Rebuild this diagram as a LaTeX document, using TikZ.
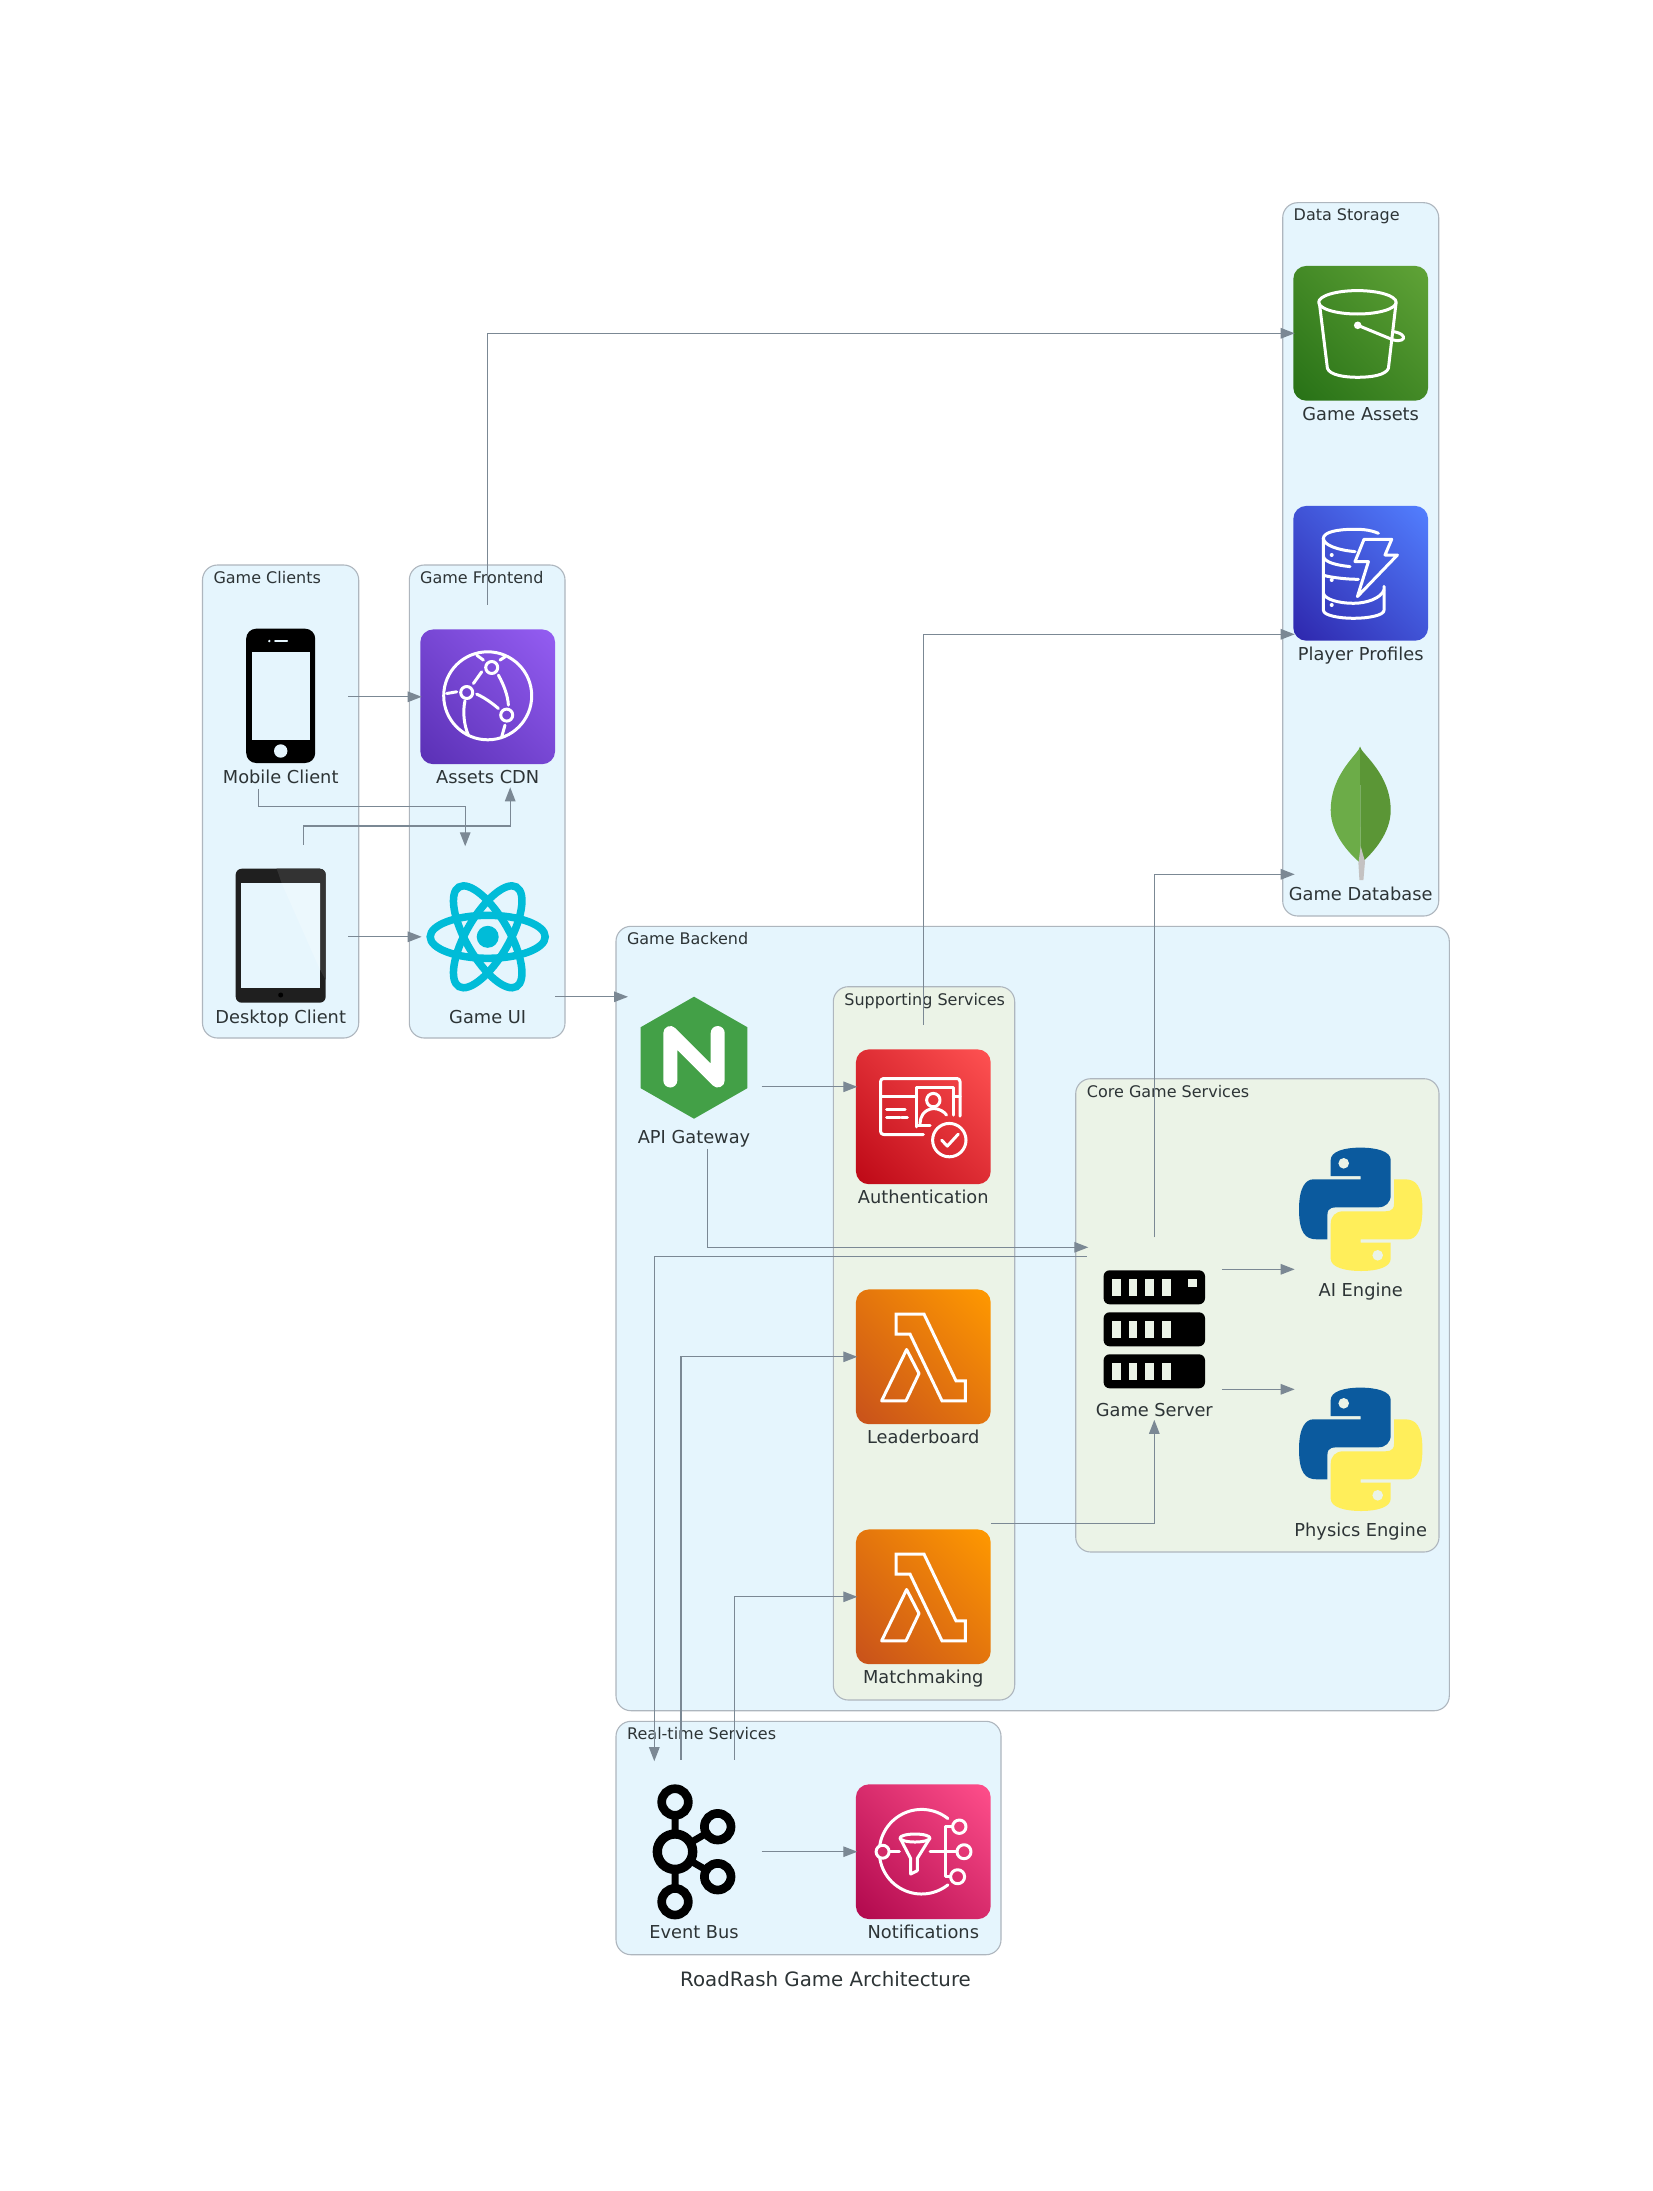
\documentclass[tikz,border=0pt]{standalone}
\usepackage{fontspec}
\setmainfont{DejaVu Sans}
\usetikzlibrary{arrows.meta}
\definecolor{clusterfill}{HTML}{E5F5FD}
\definecolor{innerfill}{HTML}{EBF3E7}
\definecolor{clusterline}{HTML}{AEB6BE}
\definecolor{connline}{HTML}{7B8894}
\definecolor{inkcol}{HTML}{2D3436}
\tikzset{
  cluster/.style={draw=clusterline,line width=1.1pt,fill=clusterfill,rounded corners=15pt},
  innercluster/.style={cluster,fill=innerfill},
  clab/.style={anchor=base west,inner sep=0pt,text=inkcol,font=\fontsize{16}{18}\selectfont},
  lab/.style={anchor=base,inner sep=0pt,text=inkcol,font=\fontsize{17.8}{20}\selectfont},
  svc/.style={rectangle,minimum width=135pt,minimum height=184pt,inner sep=0pt,outer sep=0pt,draw=none},
  conn/.style={draw=connline,line width=1.3pt,-{Triangle[length=14pt,width=10.5pt]},shorten >=-1.5pt},
  wl/.style={draw=white,line width=3pt,line cap=round,line join=round},
}
\newcommand{\svcnode}[5]{\node[svc] (#1) at (#2,#3) {};
  \node[lab] (#1-label) at ([yshift=-87pt]#1.center) {#4};}
\newcommand{\tilebg}[1]{\shade[rounded corners=13pt,shading=#1,shading angle=-45]
  (-67.4,-67.4) rectangle (67.4,67.4);}
\newcommand{\newtile}[3]{\pgfdeclareverticalshading{#1}{100bp}{color(0bp)=(#2); color(14.65bp)=(#2); color(85.35bp)=(#3); color(100bp)=(#3)}}
\newcommand{\snakepath}{(-30,-33.3) -- (-30,-49.3) .. controls (-30,-58) and (-16,-61.7) .. (-0.7,-61.7)
  .. controls (16,-61.7) and (30,-58) .. (30,-49.3) -- (30,-14.3) .. controls (30,-7) and (25,-2) .. (17.7,-2)
  -- (-19,-2) .. controls (-27,-2) and (-33.3,-3) .. (-33.3,5.7) -- (-33.3,30) -- (-44,30)
  .. controls (-55,30) and (-61.7,24) .. (-61.7,0) .. controls (-61.7,-22) and (-55,-30) .. (-47.3,-30)
  -- (0,-30) -- (0,-33.3) -- cycle}
\newcommand{\pylogo}[1]{\begin{scope}[shift={(#1.center)}]
  \fill[pyblue] \snakepath;
  \fill[innerfill] (-17,-46) circle (5.3pt);
  \begin{scope}[rotate=180]
  \fill[pyyellow] \snakepath;
  \fill[innerfill] (-17,-46) circle (5.3pt);
  \end{scope}
  \end{scope}}
\newcommand{\lambdaicon}[1]{\begin{scope}[shift={(#1.center)}]
  \tilebg{lamtile}
  \draw[wl,line join=miter] (-27.3,-42.7) -- (0.7,-42.7) -- (32.7,24) -- (42,24) -- (42,44) -- (18.7,44) -- (-13.3,-22.7) -- (-27.3,-22.7) -- cycle;
  \draw[wl] (-16.7,-7.3) -- (-4.3,16.7) -- (-17.3,44) -- (-41.7,44) -- cycle;
  \end{scope}}
\definecolor{pyblue}{HTML}{0B5A9E}
\definecolor{pyyellow}{HTML}{FFEE5A}
\definecolor{cdnA}{HTML}{5A30B5}\definecolor{cdnB}{HTML}{945DF2}
\definecolor{sthreeA}{HTML}{277116}\definecolor{sthreeB}{HTML}{60A337}
\definecolor{ddbA}{HTML}{2E27AD}\definecolor{ddbB}{HTML}{527FFF}
\definecolor{authA}{HTML}{BD0816}\definecolor{authB}{HTML}{FF5252}
\definecolor{lamA}{HTML}{C8511B}\definecolor{lamB}{HTML}{FF9900}
\definecolor{snsA}{HTML}{B0084D}\definecolor{snsB}{HTML}{FF4F8B}
\definecolor{snsmid}{HTML}{D22B69}
\definecolor{reactc}{HTML}{00BCD8}
\definecolor{ngx}{HTML}{43A047}
\definecolor{leafL}{HTML}{6CAC48}\definecolor{leafR}{HTML}{5B9636}\definecolor{leafS}{HTML}{C4C2C2}
\newtile{cdntile}{cdnA}{cdnB}
\newtile{sthreetile}{sthreeA}{sthreeB}
\newtile{ddbtile}{ddbA}{ddbB}
\newtile{authtile}{authA}{authB}
\newtile{lamtile}{lamA}{lamB}
\newtile{snstile}{snsA}{snsB}
\begin{document}
\begin{tikzpicture}[x=1pt,y=-1pt]
\useasboundingbox (0,0) rectangle (1652,2191);
\fill[white] (0,0) rectangle (1652,2191);
% clusters
\draw[cluster] (202.5,565) rectangle (358.7,1038);
\node[clab] (clients-title) at (213.3,583.5) {Game Clients};
\draw[cluster] (409.3,565) rectangle (565,1038);
\node[clab] (frontend-title) at (420,583.5) {Game Frontend};
\draw[cluster] (1282.7,202.7) rectangle (1438.7,916);
\node[clab] (storage-title) at (1293.5,221) {Data Storage};
\draw[cluster] (616,926.3) rectangle (1449.3,1710.7);
\node[clab] (backend-title) at (626.8,944.7) {Game Backend};
\draw[innercluster] (833.3,986.7) rectangle (1014.7,1700);
\node[clab] (support-title) at (844.2,1005) {Supporting Services};
\draw[innercluster] (1075.7,1078.7) rectangle (1439,1552);
\node[clab] (core-title) at (1086.7,1097) {Core Game Services};
\draw[cluster] (616,1721.3) rectangle (1001,1954.7);
\node[clab] (realtime-title) at (627,1739.7) {Real-time Services};
\node[anchor=base,inner sep=0pt,text=inkcol,font=\fontsize{19.8}{22}\selectfont] (diagram-title) at (825.5,1986.7) {RoadRash Game Architecture};
% services
\svcnode{mobile}{280.7}{696.8}{Mobile Client}{}
\svcnode{tablet}{280.7}{936.8}{Desktop Client}{}
\svcnode{cdn}{487.7}{696.8}{Assets CDN}{}
\svcnode{ui}{487.7}{936.8}{Game UI}{}
\svcnode{assets}{1360.7}{333.3}{Game Assets}{}
\svcnode{profiles}{1360.7}{573.3}{Player Profiles}{}
\svcnode{gamedb}{1360.7}{813.3}{Game Database}{}
\svcnode{gateway}{694}{1056.8}{API Gateway}{}
\svcnode{auth}{923.3}{1116.8}{Authentication}{}
\svcnode{leader}{923.3}{1356.8}{Leaderboard}{}
\svcnode{match}{923.3}{1596.8}{Matchmaking}{}
\svcnode{server}{1154.3}{1329.3}{Game Server}{}
\svcnode{ai}{1360.7}{1209.3}{AI Engine}{}
\svcnode{physics}{1360.7}{1449.3}{Physics Engine}{}
\svcnode{bus}{694}{1851.7}{Event Bus}{}
\svcnode{notif}{923.3}{1851.7}{Notifications}{}
% mobile icon
\begin{scope}[shift={(mobile.center)}]
  \fill[black,rounded corners=10pt] (-34.5,-68.1) rectangle (34.5,66.2);
  \fill[clusterfill] (-29,-44.5) rectangle (29.3,43.2);
  \fill[clusterfill] (0,54.2) circle (6.7pt);
  \draw[clusterfill,line width=1.6pt,line cap=round] (-5.7,-55.8) -- (6.6,-55.8);
  \fill[clusterfill] (-11.4,-55.8) circle (1.3pt);
\end{scope}
% tablet icon
\begin{scope}[shift={(tablet.center)}]
  \fill[black!88,rounded corners=6pt] (-45,-68.1) rectangle (45,65.9);
  \begin{scope}
    \clip[rounded corners=6pt] (-45,-68.1) rectangle (45,65.9);
    \fill[black!80] (-4,-68.1) -- (1,-53.5) -- (39.3,-53.5) -- (39.3,33) -- (45,43) -- (45,-68.1) -- cycle;
  \end{scope}
  \fill[clusterfill!92!white] (-40,-53.5) rectangle (39.3,51.5);
  \fill[clusterfill!72!white] (1,-53.5) -- (39.3,-53.5) -- (39.3,33) -- cycle;
  \fill[black] (0,58.2) circle (2.5pt);
\end{scope}
% cdn icon
\begin{scope}[shift={(cdn.center)}]
  \tilebg{cdntile}
  \draw[wl] (0,-1) circle (44pt);
  \draw[wl] (4,-29.3) circle (6pt) (-21,-4.3) circle (6pt) (19,18.3) circle (6pt);
  \draw[wl] (10.7,-21.7) .. controls (16,-12) and (20,-2) .. (20.7,8.3);
  \draw[wl] (-14.3,-13.3) -- (-6,-25);
  \draw[wl] (-11,-2.7) .. controls (-3,1) and (4,6) .. (10.7,11.7);
  \draw[wl] (-22.7,4) .. controls (-25,14) and (-24,28) .. (-19.3,38.3);
  \draw[wl] (-41,-3.3) -- (-31,-5);
  \draw[wl] (17.3,28.3) -- (14,40);
  \draw[wl] (-11,-41.7) -- (-4.3,-36.7);
  \draw[wl] (12.3,-36.7) -- (17.3,-40);
\end{scope}
% react icon
\begin{scope}[shift={(ui.center)}]
  \begin{scope}[draw=reactc,line width=7.5pt]
    \draw (0,0) ellipse [x radius=57.5pt,y radius=21.5pt];
    \draw[rotate=60] (0,0) ellipse [x radius=57.5pt,y radius=21.5pt];
    \draw[rotate=-60] (0,0) ellipse [x radius=57.5pt,y radius=21.5pt];
  \end{scope}
  \fill[reactc] (0,0) circle (11pt);
\end{scope}
% s3 icon
\begin{scope}[shift={(assets.center)}]
  \tilebg{sthreetile}
  \draw[wl] (-3.3,-31) ellipse [x radius=38.7pt,y radius=11.7pt];
  \draw[wl] (-41.3,-30) -- (-33.3,35) .. controls (-31,42) and (-15,44) .. (-3.3,44) .. controls (10,44) and (25,42) .. (27.7,35) -- (35.3,-30);
  \fill[white] (-3,-8) circle (3.8pt);
  \draw[wl] (-3,-8) -- (32.7,6.7) .. controls (40,8.5) and (44,6) .. (42.7,3.3) .. controls (41,0) and (36,-1) .. (32.7,-1.7);
\end{scope}
% dynamodb icon
\begin{scope}[shift={(profiles.center)}]
  \tilebg{ddbtile}
  \draw[wl] (17.7,-40) .. controls (8,-44) and (0,-44) .. (-7.3,-44) .. controls (-24,-44) and (-37.3,-41) .. (-37.3,-35) .. controls (-37.3,-28) and (-22,-23) .. (-5.7,-21.7);
  \draw[wl] (-37.3,-35) -- (-37.3,37) .. controls (-37.3,42) and (-22,45) .. (-7.3,45) .. controls (8,45) and (23.3,42) .. (23.3,37) -- (23.3,13);
  \draw[wl] (-37.3,-16.7) .. controls (-36,-11) and (-24,-8) .. (-10.7,-6.7);
  \draw[wl] (-37.3,1.7) .. controls (-36,3) and (-18,6) .. (-2.3,6);
  \draw[wl] (-37.3,20) .. controls (-36,26) and (-22,30) .. (-7.3,30) .. controls (6,30) and (20,25) .. (23.3,16.7);
  \draw[wl,line join=round] (3.3,-34) -- (31,-34) -- (24.3,-18.3) -- (36.7,-18.3) -- (-3.3,23.3) -- (7.7,-11.7) -- (-5.7,-11.7) -- cycle;
  \fill[white] (-29,-18.3) circle (2pt) (-29,6.7) circle (2pt) (-29,31.7) circle (2pt);
\end{scope}
% mongodb icon
\begin{scope}[shift={(gamedb.center)}]
  \fill[leafL] (-0.7,-66.7) .. controls (-1.5,-60) and (-30,-40) .. (-30,-3) .. controls (-30,20) and (-12,40) .. (0,50) -- cycle;
  \fill[leafR] (-0.7,-66.7) .. controls (0,-60) and (30,-40) .. (30,-3) .. controls (30,20) and (12,40) .. (0,50) -- cycle;
  \fill[leafS] (-2.3,50) -- (0,33) -- (4.3,48.3) -- (2.7,66.7) -- (-1.3,66.7) -- cycle;
\end{scope}
% nginx icon
\begin{scope}[shift={(gateway.center)}]
  \fill[ngx] (0,-60.1) -- (53.3,-29.6) -- (53.3,31.4) -- (0,61.9) -- (-53.3,31.4) -- (-53.3,-29.6) -- cycle;
  \draw[white,line width=14pt,line cap=round,line join=round] (-23.7,23.7) -- (-23.7,-23.8) -- (23.7,23.7) -- (23.7,-23.8);
\end{scope}
% auth icon
\begin{scope}[shift={(auth.center)}]
  \tilebg{authtile}
  \draw[wl,rounded corners=3pt] (0,17.7) -- (-42.7,17.7) -- (-42.7,-38.3) -- (36.7,-38.3) -- (36.7,-0.7);
  \draw[wl] (-42.7,-20) -- (-6.7,-20) (30,-20) -- (36.7,-20);
  \draw[wl] (-6.7,10) -- (-6.7,-29.3) -- (30,-29.3) -- (30,-1.7);
  \draw[wl] (-6.7,8.3) -- (6.7,8.3);
  \draw[wl] (10,-16.7) circle (6.7pt);
  \draw[wl] (-3.3,6.7) .. controls (-3,0) and (0,-7) .. (10,-8.3) .. controls (16,-8.3) and (21,-5) .. (23.3,-1.7);
  \draw[wl] (-36.7,-7.7) -- (-18.3,-7.7) (-36.7,1) -- (-23.3,1) (-21.7,1) -- (-16,1);
  \draw[wl] (26,23.3) circle (16.7pt);
  \draw[wl] (18.3,23.3) -- (24,29.3) -- (35,17.3);
\end{scope}
% lambda icons
\lambdaicon{leader}
\lambdaicon{match}
% server icon
\begin{scope}[shift={(server.center)}]
  \foreach \rowy in {-42,0,42}{
    \fill[black,rounded corners=6pt] (-50.7,\rowy-17) rectangle (50.7,\rowy+17);
    \foreach \barx in {-42,-25.3,-8.7,8.3}{
      \fill[innerfill] (\barx-0.3,\rowy-8.5) rectangle (\barx+8.4,\rowy+8.5);
    }
  }
  \fill[innerfill] (34,-50.5) rectangle (42.7,-42);
\end{scope}
% python icons
\pylogo{ai}
\pylogo{physics}
% kafka icon
\begin{scope}[shift={(bus.center)}]
  \draw[black,line width=7pt] (-19,-49.7) -- (-19,50) (-19,0) -- (23.7,-25) (-19,0) -- (23.7,25);
  \draw[black,fill=clusterfill,line width=9.3pt] (-19,0) circle (17.7pt);
  \draw[black,fill=clusterfill,line width=8.7pt] (-19,-49.7) circle (13.3pt) (-19,50) circle (13.3pt) (23.7,-25) circle (13.3pt) (23.7,25) circle (13.3pt);
\end{scope}
% sns icon
\begin{scope}[shift={(notif.center)}]
  \tilebg{snstile}
  \draw[wl] plot[domain=51.6:308.4,samples=60] ({-1.7+42.3*cos(\x)},{42.3*sin(\x)});
  \draw[wl,fill=snsmid] (-40.7,0) circle (6.5pt);
  \draw[wl] (-33.3,0) -- (-24,0);
  \draw[wl] (-8.3,-13.7) ellipse [x radius=15pt,y radius=4pt];
  \draw[wl] (-23.3,-13.7) -- (-12.7,6.7) -- (-12.7,22.3) -- (-6,19) -- (-6,6.7) -- (6.7,-13.7);
  \draw[wl] (6.7,0) -- (33.3,0);
  \draw[wl] (29,-25) -- (21.7,-25) -- (21.7,25) -- (27,25);
  \draw[wl] (36,-25) circle (6.7pt) (40.7,0) circle (7pt) (34.3,25) circle (7pt);
\end{scope}
% connectors
\draw[conn] (mobile.east) -- (cdn.west);
\draw[conn] (tablet.east) -- (ui.west);
\draw[conn] ([xshift=-22.5pt]mobile.south) -- ++(0,18) -| ([xshift=-22.5pt]ui.north);
\draw[conn] ([xshift=22.5pt]tablet.north) -- ++(0,-18.7) -| ([xshift=22.5pt]cdn.south);
\draw[conn] (cdn.north) |- (assets.west);
\draw[conn] ([yshift=-60pt]ui.east) -- ([yshift=60pt]gateway.west);
\draw[conn] ([yshift=-30pt]gateway.east) -- ([yshift=30pt]auth.west);
\draw[conn] (auth.north) |- ([yshift=-61pt]profiles.west);
\draw[conn] ([xshift=13.7pt]gateway.south) |- ([yshift=82pt]server.west);
\draw[conn] ([yshift=73pt]server.west) -| ([xshift=-39.7pt]bus.north);
\draw[conn] ([xshift=-13pt]bus.north) |- (leader.west);
\draw[conn] ([xshift=40.7pt]bus.north) |- (match.west);
\draw[conn] ([yshift=73.5pt]match.east) -| (server.south);
\draw[conn] (server.north) |- ([yshift=-61pt]gamedb.west);
\draw[conn] ([yshift=60pt]server.east) -- ([yshift=-60pt]ai.west);
\draw[conn] ([yshift=-60pt]server.east) -- ([yshift=60pt]physics.west);
\draw[conn] (bus.east) -- (notif.west);
\end{tikzpicture}
\end{document}
